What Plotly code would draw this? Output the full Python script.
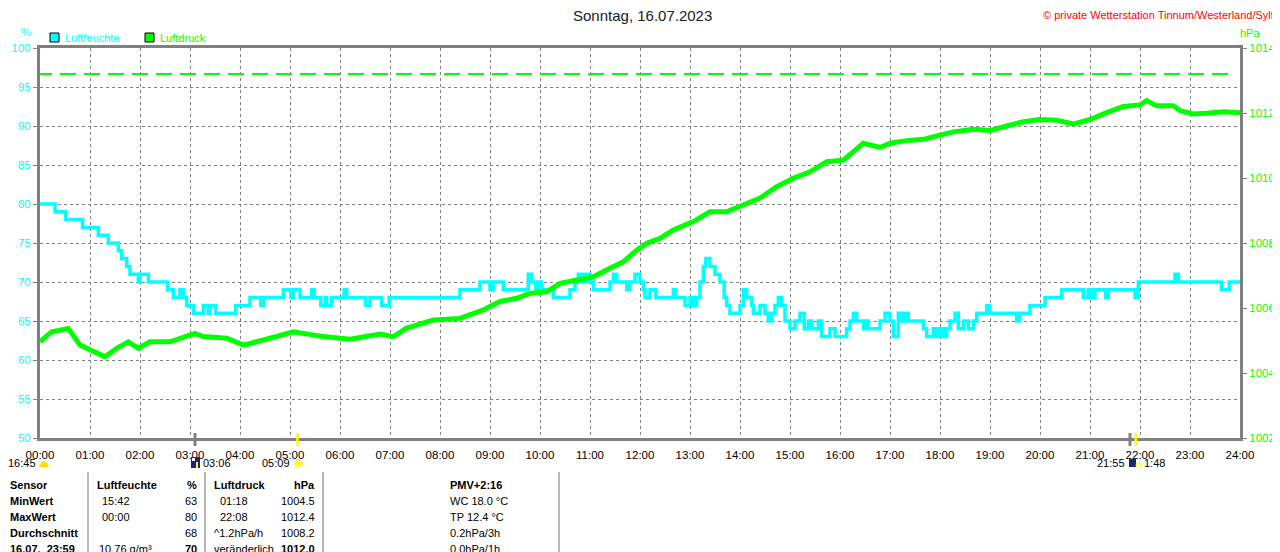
import plotly.graph_objects as go

# ---------------- data ----------------
title_text = "Sonntag, 16.07.2023"
copyright_text = "© private Wetterstation Tinnum/Westerland/Sylt"

hour_ticks = list(range(0, 25))
hour_labels = ["%02d:00" % h for h in range(0, 25)]

hum_ticks = [50, 55, 60, 65, 70, 75, 80, 85, 90, 95, 100]
press_ticks = [1002, 1004, 1006, 1008, 1010, 1012, 1014]

# Luftfeuchte (%), step changes: minute of day -> value
hum_min = [0, 18, 31, 51, 70, 82, 94, 98, 104, 108, 118, 120, 130, 153, 160, 168, 172, 176, 184,
           196, 202, 204, 211, 235, 252, 265, 268, 292, 301, 304, 312, 326, 329, 337, 342, 344,
           350, 365, 368, 391, 396, 410, 419, 504, 528, 540, 544, 556, 586, 590, 595, 598, 602,
           616, 636, 642, 646, 650, 654, 660, 664, 684, 688, 692, 704, 708, 714, 720, 724, 726,
           732, 739, 760, 763, 774, 780, 784, 788, 792, 796, 799, 804, 810, 816, 821, 824, 828,
           840, 844, 848, 854, 856, 864, 870, 874, 878, 882, 886, 890, 894, 900, 906, 912, 917,
           922, 926, 934, 938, 948, 954, 968, 972, 976, 980, 988, 992, 994, 1008, 1014, 1020,
           1024, 1030, 1034, 1038, 1042, 1060, 1064, 1072, 1076, 1080, 1084, 1088, 1092, 1098,
           1102, 1108, 1114, 1120, 1124, 1136, 1140, 1172, 1176, 1188, 1206, 1226, 1252, 1258,
           1262, 1266, 1279, 1282, 1314, 1318, 1362, 1366, 1418, 1427, 1440]
hum_val = [80, 79, 78, 77, 76, 75, 74, 73, 72, 71, 70, 71, 70, 69, 68, 69, 68, 67, 66,
           67, 66, 67, 66, 67, 68, 67, 68, 69, 68, 69, 68, 69, 68, 67, 68, 67,
           68, 69, 68, 67, 68, 67, 68, 69, 70, 69, 70, 69, 71, 70, 69, 70, 69,
           68, 69, 70, 71, 70, 71, 70, 69, 70, 71, 70, 69, 70, 71, 70, 69, 68,
           69, 68, 69, 68, 67, 68, 67, 68, 70, 72, 73, 72, 71, 70, 68, 67, 66,
           67, 69, 68, 67, 66, 67, 66, 65, 66, 67, 68, 67, 65, 64, 65, 66, 64,
           65, 64, 65, 63, 64, 63, 64, 65, 66, 65, 64, 65, 64, 65, 66, 65,
           63, 66, 65, 66, 65, 64, 63, 64, 63, 64, 63, 64, 65, 66,
           64, 65, 64, 65, 66, 67, 66, 65, 66, 67, 68, 69, 68, 69,
           68, 69, 68, 69, 68, 70, 71, 70, 69, 70, 70]

# Luftdruck (hPa): minute of day -> value
press_min = [0, 14, 34, 48, 78, 92, 106, 118, 132, 156, 186, 196, 224, 244, 276, 304, 340, 372,
             408, 424, 440, 472, 504, 532, 552, 572, 588, 608, 624, 644, 664, 684, 700, 716,
             728, 744, 760, 784, 804, 824, 844, 864, 884, 904, 924, 944, 964, 980, 988, 1008,
             1020, 1040, 1060, 1080, 1096, 1120, 1140, 1160, 1180, 1200, 1220, 1240, 1260,
             1280, 1300, 1320, 1328, 1340, 1360, 1368, 1384, 1400, 1420, 1440]
press_val = [1004.96, 1005.27, 1005.37, 1004.86, 1004.5, 1004.76, 1004.96, 1004.76, 1004.96,
             1004.96, 1005.22, 1005.12, 1005.07, 1004.86, 1005.07, 1005.27, 1005.12, 1005.04,
             1005.2, 1005.12, 1005.38, 1005.63, 1005.68, 1005.94, 1006.2, 1006.3, 1006.45,
             1006.5, 1006.76, 1006.86, 1006.96, 1007.22, 1007.42, 1007.78, 1007.99, 1008.14,
             1008.4, 1008.66, 1008.96, 1008.96, 1009.17, 1009.38, 1009.73, 1009.99, 1010.19,
             1010.5, 1010.55, 1010.9, 1011.07, 1010.94, 1011.07, 1011.15, 1011.19, 1011.32,
             1011.42, 1011.5, 1011.46, 1011.6, 1011.73, 1011.8, 1011.78, 1011.66, 1011.8,
             1012.01, 1012.2, 1012.25, 1012.38, 1012.22, 1012.22, 1012.07, 1011.97, 1011.99,
             1012.04, 1012.01]

press_ref = 1013.2      # dashed reference line (hPa)
press_ref_end = 23.8    # hours

# Sun / moon events (minute of day)
moonrise_min = 186      # 03:06
sunrise_min = 309       # 05:09
moonset_min = 1308      # 21:48
sunset_min = 1315       # 21:55

# Table
table_header = ["Sensor", "Luftfeuchte", "%", "Luftdruck", "hPa", "PMV+2:16"]
table_rows = ["MinWert", "MaxWert", "Durchschnitt", "16.07.  23:59"]
hum_time_col = ["15:42", "00:00", "", "10.76 g/m³"]
hum_val_col = ["63", "80", "68", "70"]
press_time_col = ["01:18", "22:08", "^1.2hPa/h", "veränderlich"]
press_val_col = ["1004.5", "1012.4", "1008.2", "1012.0"]
pmv_col = ["WC 18.0 °C", "TP 12.4 °C", "0.2hPa/3h", "0.0hPa/1h"]

# ---------------- figure ----------------
CYAN = "#00ffff"
GREEN = "#00ff00"
GRAY = "#808080"
FONT = "Liberation Sans, Arial, sans-serif"

# the page body adds an 8px offset, so the figure is drawn 8px smaller
OFF = 8
W, H = 1280 - OFF, 552 - OFF
PX0, PX1, PY0, PY1 = 40, 1240, 48, 438     # plot area in page pixels
L, T = PX0 - OFF, PY0 - OFF
R = W - (PX1 - OFF)
B = H - (PY1 - OFF)


def px(x):
    return (x - PX0) / (PX1 - PX0)


def py(y):
    return (PY1 - y) / (PY1 - PY0)


fig = go.Figure()

fig.add_trace(go.Scatter(
    x=[m / 60 for m in hum_min], y=hum_val, mode="lines", line_shape="hv",
    line=dict(color=CYAN, width=3.5), name="Luftfeuchte", yaxis="y", showlegend=False,
    hoverinfo="skip"))
fig.add_trace(go.Scatter(
    x=[m / 60 for m in press_min], y=press_val, mode="lines",
    line=dict(color=GREEN, width=5), name="Luftdruck", yaxis="y2", showlegend=False,
    hoverinfo="skip"))

shapes = []
# dashed reference line
shapes.append(dict(type="line", xref="x", yref="y2", x0=-0.08, x1=press_ref_end,
                   y0=press_ref, y1=press_ref, line=dict(color=GREEN, width=2, dash="16px,8px"),
                   layer="above"))

# event markers on the bottom axis
for m, col, w in [(moonrise_min, GRAY, 3), (moonset_min, GRAY, 3),
                  (sunrise_min, "#ffff00", 2.5), (sunset_min, "#ffff00", 2.5)]:
    shapes.append(dict(type="line", xref="x", yref="paper", x0=m / 60, x1=m / 60,
                       y0=py(446), y1=py(433), line=dict(color=col, width=w)))

# legend squares
shapes.append(dict(type="rect", xref="paper", yref="paper", x0=px(50), x1=px(59),
                   y0=py(42), y1=py(33), fillcolor=CYAN, line=dict(color="black", width=1)))
shapes.append(dict(type="rect", xref="paper", yref="paper", x0=px(145), x1=px(154),
                   y0=py(42), y1=py(33), fillcolor=GREEN, line=dict(color="black", width=1)))

# table separators
for sx in (88, 205, 323, 559):
    shapes.append(dict(type="line", xref="paper", yref="paper", x0=px(sx), x1=px(sx),
                       y0=py(472), y1=py(560), line=dict(color="#a0a0a0", width=1.5)))

# icons in the sun/moon row
shapes.append(dict(type="path", xref="paper", yref="paper",
                   path="M %f %f Q %f %f %f %f Z" % (px(39), py(467), px(44), py(455), px(49), py(467)),
                   fillcolor="#ffe000", line=dict(width=0)))
shapes.append(dict(type="rect", xref="paper", yref="paper", x0=px(191), x1=px(200),
                   y0=py(468), y1=py(457), fillcolor="#1a237e", line=dict(width=0)))
shapes.append(dict(type="rect", xref="paper", yref="paper", x0=px(192), x1=px(195),
                   y0=py(461), y1=py(458), fillcolor="#ffffff", line=dict(width=0)))
shapes.append(dict(type="rect", xref="paper", yref="paper", x0=px(196), x1=px(198),
                   y0=py(468), y1=py(462), fillcolor="#ffff00", line=dict(width=0)))
shapes.append(dict(type="circle", xref="paper", yref="paper", x0=px(295), x1=px(302),
                   y0=py(467), y1=py(460), fillcolor="#ffff00", line=dict(color="#ffee88", width=2)))
shapes.append(dict(type="rect", xref="paper", yref="paper", x0=px(1129), x1=px(1136),
                   y0=py(467), y1=py(459), fillcolor="#1a237e", line=dict(width=0)))
shapes.append(dict(type="circle", xref="paper", yref="paper", x0=px(1136), x1=px(1141),
                   y0=py(468), y1=py(463), fillcolor="rgba(0,0,0,0)",
                   line=dict(color="#ffff00", width=1)))

ann = []


def text(x, y, s, color="black", size=11, xanchor="left", bold=False):
    if bold:
        s = "<b>%s</b>" % s
    ann.append(dict(xref="paper", yref="paper", x=px(x), y=py(y), text=s, showarrow=False,
                    xanchor=xanchor, yanchor="middle",
                    font=dict(family=FONT, size=size, color=color)))


text(642, 15, title_text, color="#202020", size=15, xanchor="center")
text(1276, 15, copyright_text, color="#ff0000", size=11, xanchor="right")
text(26, 32, "%", color=CYAN, size=11, xanchor="center")
text(1250, 33, "hPa", color=GREEN, size=11, xanchor="center")
text(63, 38, "Luftfeuchte", color=CYAN, size=11)
text(158, 38, "Luftdruck", color=GREEN, size=11)

# sun/moon row
text(38, 463, "16:45", xanchor="right")
text(201, 463, "03:06")
text(292, 463, "05:09", xanchor="right")
text(1127, 463, "21:55", xanchor="right")
text(1142, 463, "1:48")

# table
rows_y = [485, 501, 517, 533, 549]
text(8, rows_y[0], table_header[0], bold=True)
text(95, rows_y[0], table_header[1], bold=True)
text(199, rows_y[0], table_header[2], bold=True, xanchor="right")
text(212, rows_y[0], table_header[3], bold=True)
text(317, rows_y[0], table_header[4], bold=True, xanchor="right")
text(448, rows_y[0], table_header[5], bold=True)
for i in range(4):
    y = rows_y[i + 1]
    last = i == 3
    text(8, y, table_rows[i], bold=True)
    text(100 if not last else 97, y, hum_time_col[i])
    text(199, y, hum_val_col[i], xanchor="right", bold=last)
    text(218 if i < 2 else 212, y, press_time_col[i])
    text(317, y, press_val_col[i], xanchor="right", bold=last)
    text(448, y, pmv_col[i])

fig.update_layout(
    width=W, height=H, margin=dict(l=L, r=R, t=T, b=B, pad=0, autoexpand=False),
    paper_bgcolor="white", plot_bgcolor="white",
    font=dict(family=FONT, size=11, color="black"),
    showlegend=False,
    shapes=shapes, annotations=ann,
    xaxis=dict(range=[0, 24], tickvals=hour_ticks, ticktext=hour_labels, showgrid=True,
               gridcolor=GRAY, griddash="3px,3px", gridwidth=1, zeroline=False,
               showline=True, linecolor=GRAY, linewidth=3, mirror=True, automargin=False,
               ticks="outside", ticklen=4, tickcolor="rgba(0,0,0,0)",
               tickfont=dict(family=FONT, size=11.5, color="black")),
    yaxis=dict(range=[50, 100], tickvals=hum_ticks, showgrid=True, gridcolor=GRAY,
               griddash="3px,3px", gridwidth=1, zeroline=False, showline=True,
               linecolor=GRAY, linewidth=3, ticks="outside", ticklen=4, tickcolor=GRAY,
               automargin=False,
               tickfont=dict(family=FONT, size=11.5, color=CYAN)),
    yaxis2=dict(range=[1002, 1014], tickvals=press_ticks, overlaying="y", side="right",
                showgrid=False, zeroline=False, showline=True, linecolor=GRAY, linewidth=3,
                ticks="outside", ticklen=4, tickcolor=GRAY, automargin=False,
                tickfont=dict(family=FONT, size=11.5, color=GREEN)),
)

fig.write_html("out.html")
